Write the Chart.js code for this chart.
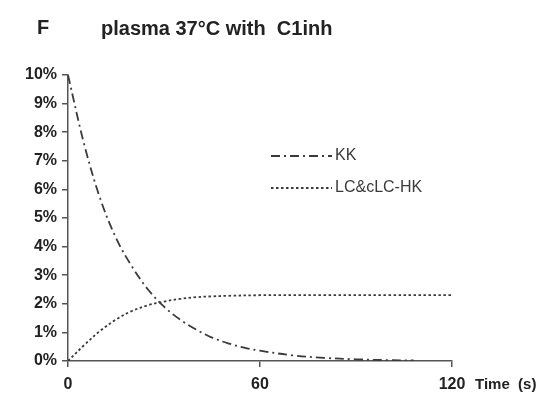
<!DOCTYPE html>
<html>
<head>
<meta charset="utf-8">
<script src="https://cdn.jsdelivr.net/npm/chart.js@4"></script>
<style>
  body { margin: 0; background: #fff; }
  #wrap { width: 545px; height: 399px; }
</style>
</head>
<body>
<div id="wrap"><canvas id="chart"></canvas></div>
<script>
// values (percent)
var kkTimes = [0, 5, 10, 15, 20, 25, 30, 35, 40, 45, 50, 55, 60, 70, 80, 90, 100, 108];
var kkValues = [10, 7.6, 5.7, 4.3, 3.3, 2.5, 1.9, 1.45, 1.1, 0.82, 0.62, 0.47, 0.36, 0.2, 0.11, 0.06, 0.03, 0.02];
var lcTimes = [0, 5, 10, 15, 20, 25, 30, 35, 40, 45, 50, 60, 80, 100, 120];
var lcValues = [0, 0.55, 1.05, 1.45, 1.75, 1.95, 2.08, 2.17, 2.23, 2.26, 2.28, 2.3, 2.3, 2.3, 2.3];
var xTicks = [0, 60, 120];
var seriesNames = ['KK', 'LC&cLC-HK'];

function toPoints(xs, ys) {
    return xs.map(function(x, i) { return { x: x, y: ys[i] }; });
}

var ink = '#3a3a3a';
var fontFam = '"Liberation Sans", Arial, sans-serif';

// titles, axis label and the little legend in the plot
var extras = {
    id: 'extras',
    afterDraw: function(chart) {
        var ctx = chart.ctx;
        ctx.save();
        ctx.fillStyle = '#222';
        ctx.textBaseline = 'middle';
        ctx.textAlign = 'left';
        ctx.font = 'bold 20px ' + fontFam;
        ctx.fillText('F', 37, 28);
        ctx.fillText('plasma 37°C with  C1inh', 101, 29);

        ctx.font = 'bold 15px ' + fontFam;
        ctx.fillText('Time  (s)', 475, 385);

        // legend
        var rows = [156, 188];
        ctx.font = '16px ' + fontFam;
        chart.data.datasets.forEach(function(ds, i) {
            ctx.strokeStyle = ds.borderColor;
            ctx.lineWidth = ds.borderWidth;
            ctx.setLineDash(ds.borderDash);
            ctx.beginPath();
            ctx.moveTo(271, rows[i]);
            ctx.lineTo(332, rows[i]);
            ctx.stroke();
            ctx.setLineDash([]);
            ctx.fillStyle = ink;
            ctx.fillText(ds.label, 335, rows[i]);
        });
        ctx.restore();
    }
};

var ctx = document.getElementById('chart').getContext('2d');
var myChart = new Chart(ctx, {
    type: 'line',
    data: {
        datasets: [
            {
                label: seriesNames[0],
                data: toPoints(kkTimes, kkValues),
                borderColor: ink,
                borderWidth: 1.8,
                borderDash: [9, 4, 2, 4],
                pointRadius: 0,
                tension: 0.35,
                fill: false
            },
            {
                label: seriesNames[1],
                data: toPoints(lcTimes, lcValues),
                borderColor: ink,
                borderWidth: 1.8,
                borderDash: [2.5, 2.5],
                pointRadius: 0,
                tension: 0.35,
                fill: false
            }
        ]
    },
    options: {
        responsive: true,
        maintainAspectRatio: false,
        animation: false,
        layout: { padding: { top: 75, right: 93, left: 0, bottom: 0 } },
        plugins: {
            legend: { display: false },
            tooltip: { enabled: false }
        },
        scales: {
            x: {
                type: 'linear',
                min: 0,
                max: 120,
                afterBuildTicks: function(scale) {
                    scale.ticks = xTicks.map(function(v) { return { value: v }; });
                },
                afterFit: function(scale) { scale.height = 38; },
                border: { color: '#555', width: 1.5 },
                grid: { drawOnChartArea: false, drawTicks: true, tickLength: 6, color: '#555', lineWidth: 1.5 },
                ticks: {
                    color: '#222',
                    padding: 8,
                    maxRotation: 0,
                    font: { family: fontFam, size: 16, weight: 'bold' }
                }
            },
            y: {
                min: 0,
                max: 10,
                afterFit: function(scale) { scale.width = 68; },
                border: { color: '#555', width: 1.5 },
                grid: { drawOnChartArea: false, drawTicks: true, tickLength: 6, color: '#555', lineWidth: 1.5 },
                ticks: {
                    stepSize: 1,
                    color: '#222',
                    padding: 5,
                    font: { family: fontFam, size: 16, weight: 'bold' },
                    callback: function(v) { return v + '%'; }
                }
            }
        }
    },
    plugins: [extras]
});
</script>
</body>
</html>
